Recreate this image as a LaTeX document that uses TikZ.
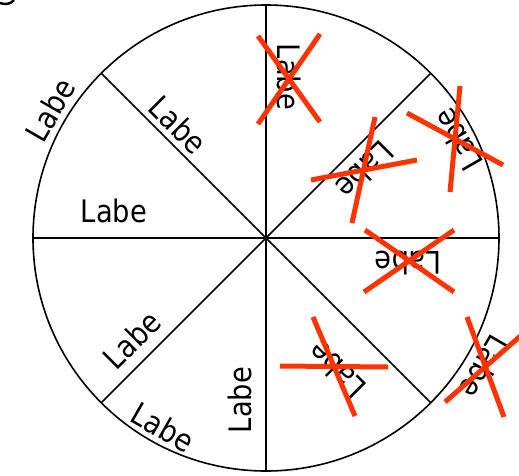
\documentclass[tikz,border=0pt]{standalone}
\usepackage{fontspec}
\newfontfamily\labefont[FakeStretch=0.88]{DejaVu Sans}
\definecolor{crossred}{RGB}{255,51,0}

\begin{document}
\begin{tikzpicture}[x=1pt, y=1pt, line width=1.6pt,
  lbl/.style={inner sep=0pt, font=\labefont\fontsize{31}{37}\selectfont},
  cross/.style={draw=crossred, line width=5pt}]

  \useasboundingbox (-266,-237) rectangle (253,238);

  % clipped glyph in the corner
  \draw[line width=2.5pt] (-266,235) .. controls (-261,233) and (-255,234) .. (-252,238);

  % wheel
  \coordinate (O) at (0,0);
  \draw (O) circle (233);
  \foreach \a in {0,45,...,315}
    \draw (O) -- (\a:233);

  % good labels
  \node[lbl, rotate=60]  (L1) at (-216,128)  {Labe};
  \node[lbl, rotate=-45] (L2) at (-88,113)   {Labe};
  \node[lbl]             (L3) at (-152,27)   {Labe};
  \node[lbl, rotate=45]  (L4) at (-134,-102) {Labe};
  \node[lbl, rotate=-30] (L5) at (-103,-189) {Labe};
  \node[lbl, rotate=90]  (L6) at (-26,-162)  {Labe};

  % bad labels
  \node[lbl, rotate=-90] (B1) at (23,161)    {Labe};
  \node[lbl, rotate=225] (B2) at (99,68)     {Labe};
  \node[lbl, rotate=120] (B3) at (192,98)    {Labe};
  \node[lbl, rotate=180] (B4) at (142,-25)   {Labe};
  \node[lbl, rotate=135] (B5) at (71,-132)   {Labe};
  \node[lbl, rotate=240] (B6) at (219,-129)  {Labe};

  % crossed out
  \draw[cross] (-8,202) -- (54,116)  (54,204) -- (-8,114);
  \draw[cross] (109,121) -- (86,15)  (45,58) -- (151,78);
  \draw[cross] (194,152) -- (184,46) (141,125) -- (237,73);
  \draw[cross] (99,8) -- (188,-54)   (188,8) -- (98,-54);
  \draw[cross] (47,-79) -- (89,-178) (14,-128) -- (122,-129);
  \draw[cross] (201,-79) -- (238,-179) (179,-164) -- (259,-94);

\end{tikzpicture}
\end{document}
